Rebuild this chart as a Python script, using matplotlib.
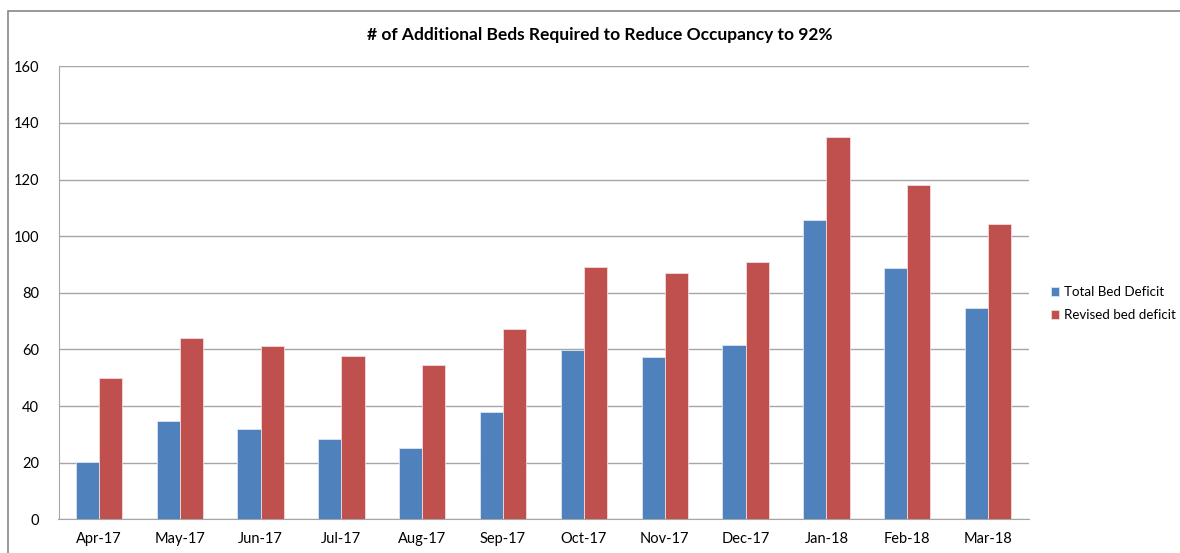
import numpy as np
import matplotlib
matplotlib.use("Agg")
import matplotlib.pyplot as plt
from matplotlib.patches import Rectangle

months = ['Apr-17', 'May-17', 'Jun-17', 'Jul-17', 'Aug-17', 'Sep-17',
          'Oct-17', 'Nov-17', 'Dec-17', 'Jan-18', 'Feb-18', 'Mar-18']
total_deficit = [20.2, 34.6, 31.9, 28.4, 25.3, 37.9, 59.7, 57.3, 61.5, 105.7, 88.8, 74.7]
revised_deficit = [49.8, 64.1, 61.3, 57.7, 54.6, 67.1, 89.1, 87.0, 91.0, 135.0, 118.0, 104.3]
series_names = ['Total Bed Deficit', 'Revised bed deficit']
yticks = [0, 20, 40, 60, 80, 100, 120, 140, 160]

plt.rcParams['font.family'] = ['Lato', 'DejaVu Sans']

W, H = 1180, 553
fig = plt.figure(figsize=(W / 100, H / 100), dpi=100)

# outer chart border (runs off the right / bottom edge)
fig.patches.append(Rectangle((8 / W, -0.05), 1.1, 1 - 11 / H + 0.05,
                             transform=fig.transFigure, fill=False,
                             edgecolor='#868686', linewidth=1.2))

ax = fig.add_axes([58.5 / W, 1 - 519.3 / H, 970 / W, 453 / H])

x = np.arange(len(months))
bw = 1 / 3.5
ax.bar(x - bw / 2, total_deficit, bw, color='#4F81BD', edgecolor='#DCE6F2',
       linewidth=0.6, label=series_names[0], zorder=3)
ax.bar(x + bw / 2, revised_deficit, bw, color='#C0504D', edgecolor='#F2DCDB',
       linewidth=0.6, label=series_names[1], zorder=3)

ax.set_xlim(-0.5, len(months) - 0.5)
ax.set_ylim(0, 160)
ax.set_yticks(yticks)
ax.set_xticks(x)
ax.set_xticklabels(months)
ax.tick_params(length=0, labelsize=10.5, colors='black')
ax.tick_params(axis='y', pad=14)
ax.tick_params(axis='x', pad=9)
ax.grid(axis='y', color='#A6A6A6', linewidth=1, zorder=0)
for s in ['top', 'right']:
    ax.spines[s].set_visible(False)
ax.spines['left'].set_color('#A6A6A6')
ax.spines['bottom'].set_color('#A6A6A6')

fig.text(600 / W, 1 - 35 / H, '# of Additional Beds Required to Reduce Occupancy to 92%',
         ha='center', va='center', fontsize=12.5, fontweight='bold')

fig.legend(loc='upper left', bbox_to_anchor=(1042 / W, 1 - 277 / H),
           frameon=False, fontsize=9.6, handlelength=0.6, handleheight=0.6,
           handletextpad=0.35, labelspacing=0.8, borderpad=0.2)

fig.savefig('out.png', dpi=100)
